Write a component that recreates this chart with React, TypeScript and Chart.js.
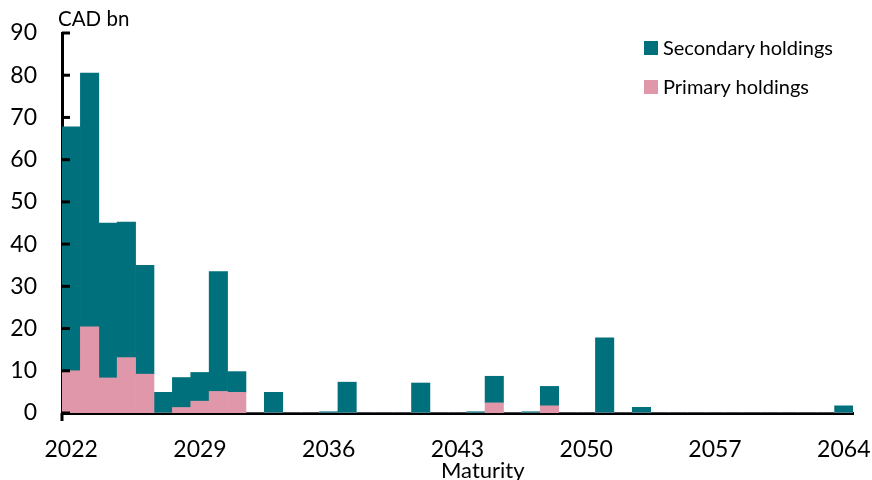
import React, { useEffect, useRef } from "react";
import { Chart, registerables } from "chart.js";

Chart.register(...registerables);

const years: string[] = [
  "2022", "2023", "2024", "2025", "2026", "2027", "2028", "2029", "2030", "2031",
  "2032", "2033", "2034", "2035", "2036", "2037", "2038", "2039", "2040", "2041",
  "2042", "2043", "2044", "2045", "2046", "2047", "2048", "2049", "2050", "2051",
  "2052", "2053", "2054", "2055", "2056", "2057", "2058", "2059", "2060", "2061",
  "2062", "2063", "2064",
];

const primaryHoldings: number[] = [
  10, 20.4, 8.3, 13.1, 9.2, 0, 1.3, 2.8, 5.1, 4.9,
  0, 0, 0, 0, 0, 0, 0, 0, 0, 0,
  0, 0, 0, 2.4, 0, 0, 1.7, 0, 0, 0,
  0, 0, 0, 0, 0, 0, 0, 0, 0, 0,
  0, 0, 0,
];

const secondaryHoldings: number[] = [
  57.8, 60.1, 36.7, 32.1, 25.8, 4.9, 7.1, 6.8, 28.4, 4.9,
  0, 4.9, 0, 0, 0.3, 7.3, 0, 0, 0, 7.1,
  0, 0, 0.3, 6.3, 0, 0.3, 4.6, 0, 0, 17.8,
  0, 1.35, 0, 0, 0, 0, 0, 0, 0, 0,
  0, 0, 1.7,
];

const TEAL = "#00717c";
const PINK = "#e197aa";
const FONT = "Lato, 'Noto Sans', sans-serif";

const innerTicks = {
  id: "innerTicks",
  afterDraw(chart: any) {
    const { ctx, chartArea } = chart;
    const y = chart.scales.y;
    ctx.save();
    ctx.strokeStyle = "#000";
    ctx.lineWidth = 3;
    y.ticks.forEach((t: any) => {
      const py = y.getPixelForValue(t.value);
      ctx.beginPath();
      ctx.moveTo(chartArea.left, py);
      ctx.lineTo(chartArea.left + 8, py);
      ctx.stroke();
    });
    ctx.beginPath();
    ctx.moveTo(chartArea.left, chartArea.bottom);
    ctx.lineTo(chartArea.left, chartArea.bottom + 8);
    ctx.stroke();
    ctx.restore();
  },
};

export default function App() {
  const ref = useRef<HTMLCanvasElement | null>(null);

  useEffect(() => {
    if (!ref.current) return;
    const chart = new Chart(ref.current, {
      type: "bar",
      data: {
        labels: years,
        datasets: [
          {
            label: "Primary holdings",
            data: primaryHoldings,
            backgroundColor: PINK,
            borderWidth: 0,
            categoryPercentage: 1,
            barPercentage: 1,
          },
          {
            label: "Secondary holdings",
            data: secondaryHoldings,
            backgroundColor: TEAL,
            borderWidth: 0,
            categoryPercentage: 1,
            barPercentage: 1,
          },
        ],
      },
      options: {
        responsive: false,
        animation: false,
        layout: { padding: { top: 33, right: 19, left: 0, bottom: 0 } },
        plugins: {
          legend: { display: false },
          tooltip: { enabled: false },
          title: { display: false },
        },
        scales: {
          x: {
            stacked: true,
            grid: { display: false, drawTicks: false },
            border: { display: true, color: "#000", width: 3 },
            ticks: {
              autoSkip: false,
              maxRotation: 0,
              minRotation: 0,
              padding: 23,
              color: "#000",
              font: { family: FONT, size: 23 },
              callback: function (this: any, _v: any, i: number) {
                return i % 7 === 0 ? years[i] : "";
              },
            },
            title: { display: false },
            afterFit(scale: any) {
              scale.height = 67;
              scale.paddingLeft = 0;
              scale.paddingRight = 0;
            },
          },
          y: {
            stacked: true,
            min: 0,
            max: 90,
            grid: { display: false, drawTicks: false },
            border: { display: true, color: "#000", width: 3 },
            ticks: {
              stepSize: 10,
              padding: 25,
              color: "#000",
              font: { family: FONT, size: 23 },
            },
            afterFit(scale: any) {
              scale.width = 62;
              scale.paddingTop = 0;
              scale.paddingBottom = 0;
            },
          },
        },
      },
      plugins: [innerTicks],
    });
    return () => chart.destroy();
  }, []);

  const legendText: React.CSSProperties = {
    position: "absolute",
    left: 663,
    fontFamily: FONT,
    fontSize: 20,
    color: "#000",
    lineHeight: "22px",
    whiteSpace: "nowrap",
  };

  return (
    <div style={{ position: "absolute", left: 0, top: 0, width: 872, height: 480, background: "#fff", overflow: "hidden" }}>
      <canvas ref={ref} width={872} height={480} style={{ position: "absolute", left: 0, top: 0 }} />
      <div style={{ position: "absolute", left: 58, top: 6, fontFamily: FONT, fontSize: 20.5, lineHeight: "24px", color: "#000" }}>
        CAD bn
      </div>
      <div style={{ position: "absolute", left: 441, top: 458, fontFamily: FONT, fontSize: 22, lineHeight: "24px", color: "#000", whiteSpace: "nowrap" }}>
        Maturity
      </div>
      <div style={{ position: "absolute", left: 644, top: 41, width: 14, height: 14, background: TEAL }} />
      <div style={{ ...legendText, top: 36 }}>Secondary holdings</div>
      <div style={{ position: "absolute", left: 644, top: 80, width: 14, height: 14, background: PINK }} />
      <div style={{ ...legendText, top: 75 }}>Primary holdings</div>
    </div>
  );
}
